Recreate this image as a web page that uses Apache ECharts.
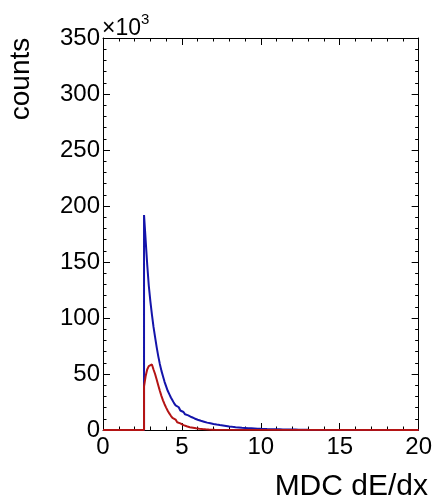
<!DOCTYPE html>
<html>
<head>
<meta charset="utf-8">
<script src="https://cdn.jsdelivr.net/npm/echarts@6/dist/echarts.min.js"></script>
<style>
html,body{margin:0;padding:0;background:#fff;}
#c{width:435px;height:504px;}
</style>
</head>
<body>
<div id="c"></div>
<script>
// Histogram binning (MDC dE/dx), counts in units of 10^3
const xMin = 0, xMax = 20;
const binStart = 2.6;
const binWidth = 0.1;
const xTicks = [0, 5, 10, 15, 20];
const yTicks = [0, 50, 100, 150, 200, 250, 300, 350];

// blue histogram (all)
const blueCounts = [
  192, 170, 148, 129, 115, 103, 92, 83, 74, 66,
  59, 53, 48, 43, 39, 35, 32, 29, 26.5, 24,
  22, 20.3, 18.8, 17.4, 16.1, 15.0, 14.0, 13.1, 12.3, 11.6,
  10.9, 10.3, 9.7, 9.2, 8.7, 8.2, 7.8, 7.4, 7.0, 6.6,
  6.3, 6.0, 5.7, 5.4, 5.1, 4.85, 4.6, 4.4, 4.2, 4.0,
  3.8, 3.6, 3.4, 3.2, 3.0, 2.85, 2.7, 2.55, 2.4, 2.3,
  2.15, 2.05, 1.95, 1.85, 1.75, 1.65, 1.55, 1.5, 1.4, 1.35,
  1.25, 1.2, 1.1, 1.05, 1.0, 0.95, 0.9, 0.85, 0.8, 0.78,
  0.74, 0.7, 0.66, 0.63, 0.6, 0.57, 0.54, 0.51, 0.48, 0.46,
  0.44, 0.42, 0.4, 0.38, 0.36, 0.34, 0.32, 0.3, 0.29, 0.28,
  0.27, 0.26, 0.25, 0.24, 0.23
];

// red histogram (selected)
const redCounts = [
  39, 48, 54, 57, 58.5, 57, 54, 50, 45, 40,
  35, 30.5, 26.5, 23, 20, 17.2, 14.8, 12.7, 10.9, 9.3,
  8.0, 6.9, 5.9, 5.1, 4.4, 3.8, 3.3, 2.85, 2.5, 2.25,
  2.0, 1.75, 1.5, 1.3, 1.1, 0.95, 0.8, 0.68, 0.58, 0.49,
  0.41, 0.35, 0.3, 0.25, 0.21, 0.18
];

function histData(counts) {
  const d = [[xMin, 0]];
  counts.forEach((c, i) => d.push([+(binStart + i * binWidth).toFixed(3), c]));
  d.push([+(binStart + counts.length * binWidth).toFixed(3), 0]);
  d.push([xMax, 0]);
  return d;
}

const FONT = '"Liberation Sans", Arial, Helvetica, sans-serif';
const chart = echarts.init(document.getElementById('c'), null, {renderer: 'canvas'});

const gridL = 103, gridT = 38, gridR = 14, gridB = 74;
function axisBase() {
  return {
    axisLine: {show: true, onZero: false, lineStyle: {color: '#000', width: 1}},
    axisTick: {show: true, inside: true, length: 7, lineStyle: {color: '#000', width: 1}},
    minorTick: {show: true, splitNumber: 5, length: 3.5, lineStyle: {color: '#000', width: 1}},
    splitLine: {show: false},
    minorSplitLine: {show: false}
  };
}

chart.setOption({
  animation: false,
  backgroundColor: '#fff',
  grid: {left: gridL, top: gridT, right: gridR, bottom: gridB, containLabel: false},
  xAxis: [
    Object.assign({
      type: 'value', position: 'bottom', min: xMin, max: xMax, interval: xTicks[1] - xTicks[0],
      axisLabel: {show: true, color: '#000', fontFamily: FONT, fontSize: 24, margin: 5}
    }, axisBase()),
    Object.assign({
      type: 'value', position: 'top', min: xMin, max: xMax, interval: xTicks[1] - xTicks[0],
      axisLabel: {show: false}
    }, axisBase())
  ],
  yAxis: [
    Object.assign({
      type: 'value', position: 'left', min: yTicks[0], max: yTicks[yTicks.length - 1], interval: yTicks[1] - yTicks[0],
      axisLabel: {show: true, color: '#000', fontFamily: FONT, fontSize: 24, margin: 3}
    }, axisBase()),
    Object.assign({
      type: 'value', position: 'right', min: yTicks[0], max: yTicks[yTicks.length - 1], interval: yTicks[1] - yTicks[0],
      axisLabel: {show: false}
    }, axisBase())
  ],
  series: [
    {
      name: 'all', type: 'line', step: 'end', showSymbol: false, symbol: 'none',
      xAxisIndex: 0, yAxisIndex: 0, clip: false,
      lineStyle: {color: '#1414aa', width: 2},
      data: histData(blueCounts), z: 3
    },
    {
      name: 'selected', type: 'line', step: 'end', showSymbol: false, symbol: 'none',
      xAxisIndex: 0, yAxisIndex: 0, clip: false,
      lineStyle: {color: '#b41414', width: 2},
      data: histData(redCounts), z: 4
    }
  ],
  graphic: [
    {
      type: 'text', x: 21, y: 79, rotation: Math.PI / 2,
      style: {text: 'counts', fontFamily: FONT, fontSize: 28, fill: '#000', align: 'center', verticalAlign: 'middle'}
    },
    {
      type: 'text', x: 428, y: 487,
      style: {text: 'MDC dE/dx', fontFamily: FONT, fontSize: 30, fill: '#000', align: 'right', verticalAlign: 'middle'}
    },
    {
      type: 'text', x: 102, y: 29,
      style: {text: '×10', fontFamily: FONT, fontSize: 23, fill: '#000', align: 'left', verticalAlign: 'middle'}
    },
    {
      type: 'text', x: 141, y: 20,
      style: {text: '3', fontFamily: FONT, fontSize: 15, fill: '#000', align: 'left', verticalAlign: 'middle'}
    }
  ]
});
</script>
</body>
</html>
